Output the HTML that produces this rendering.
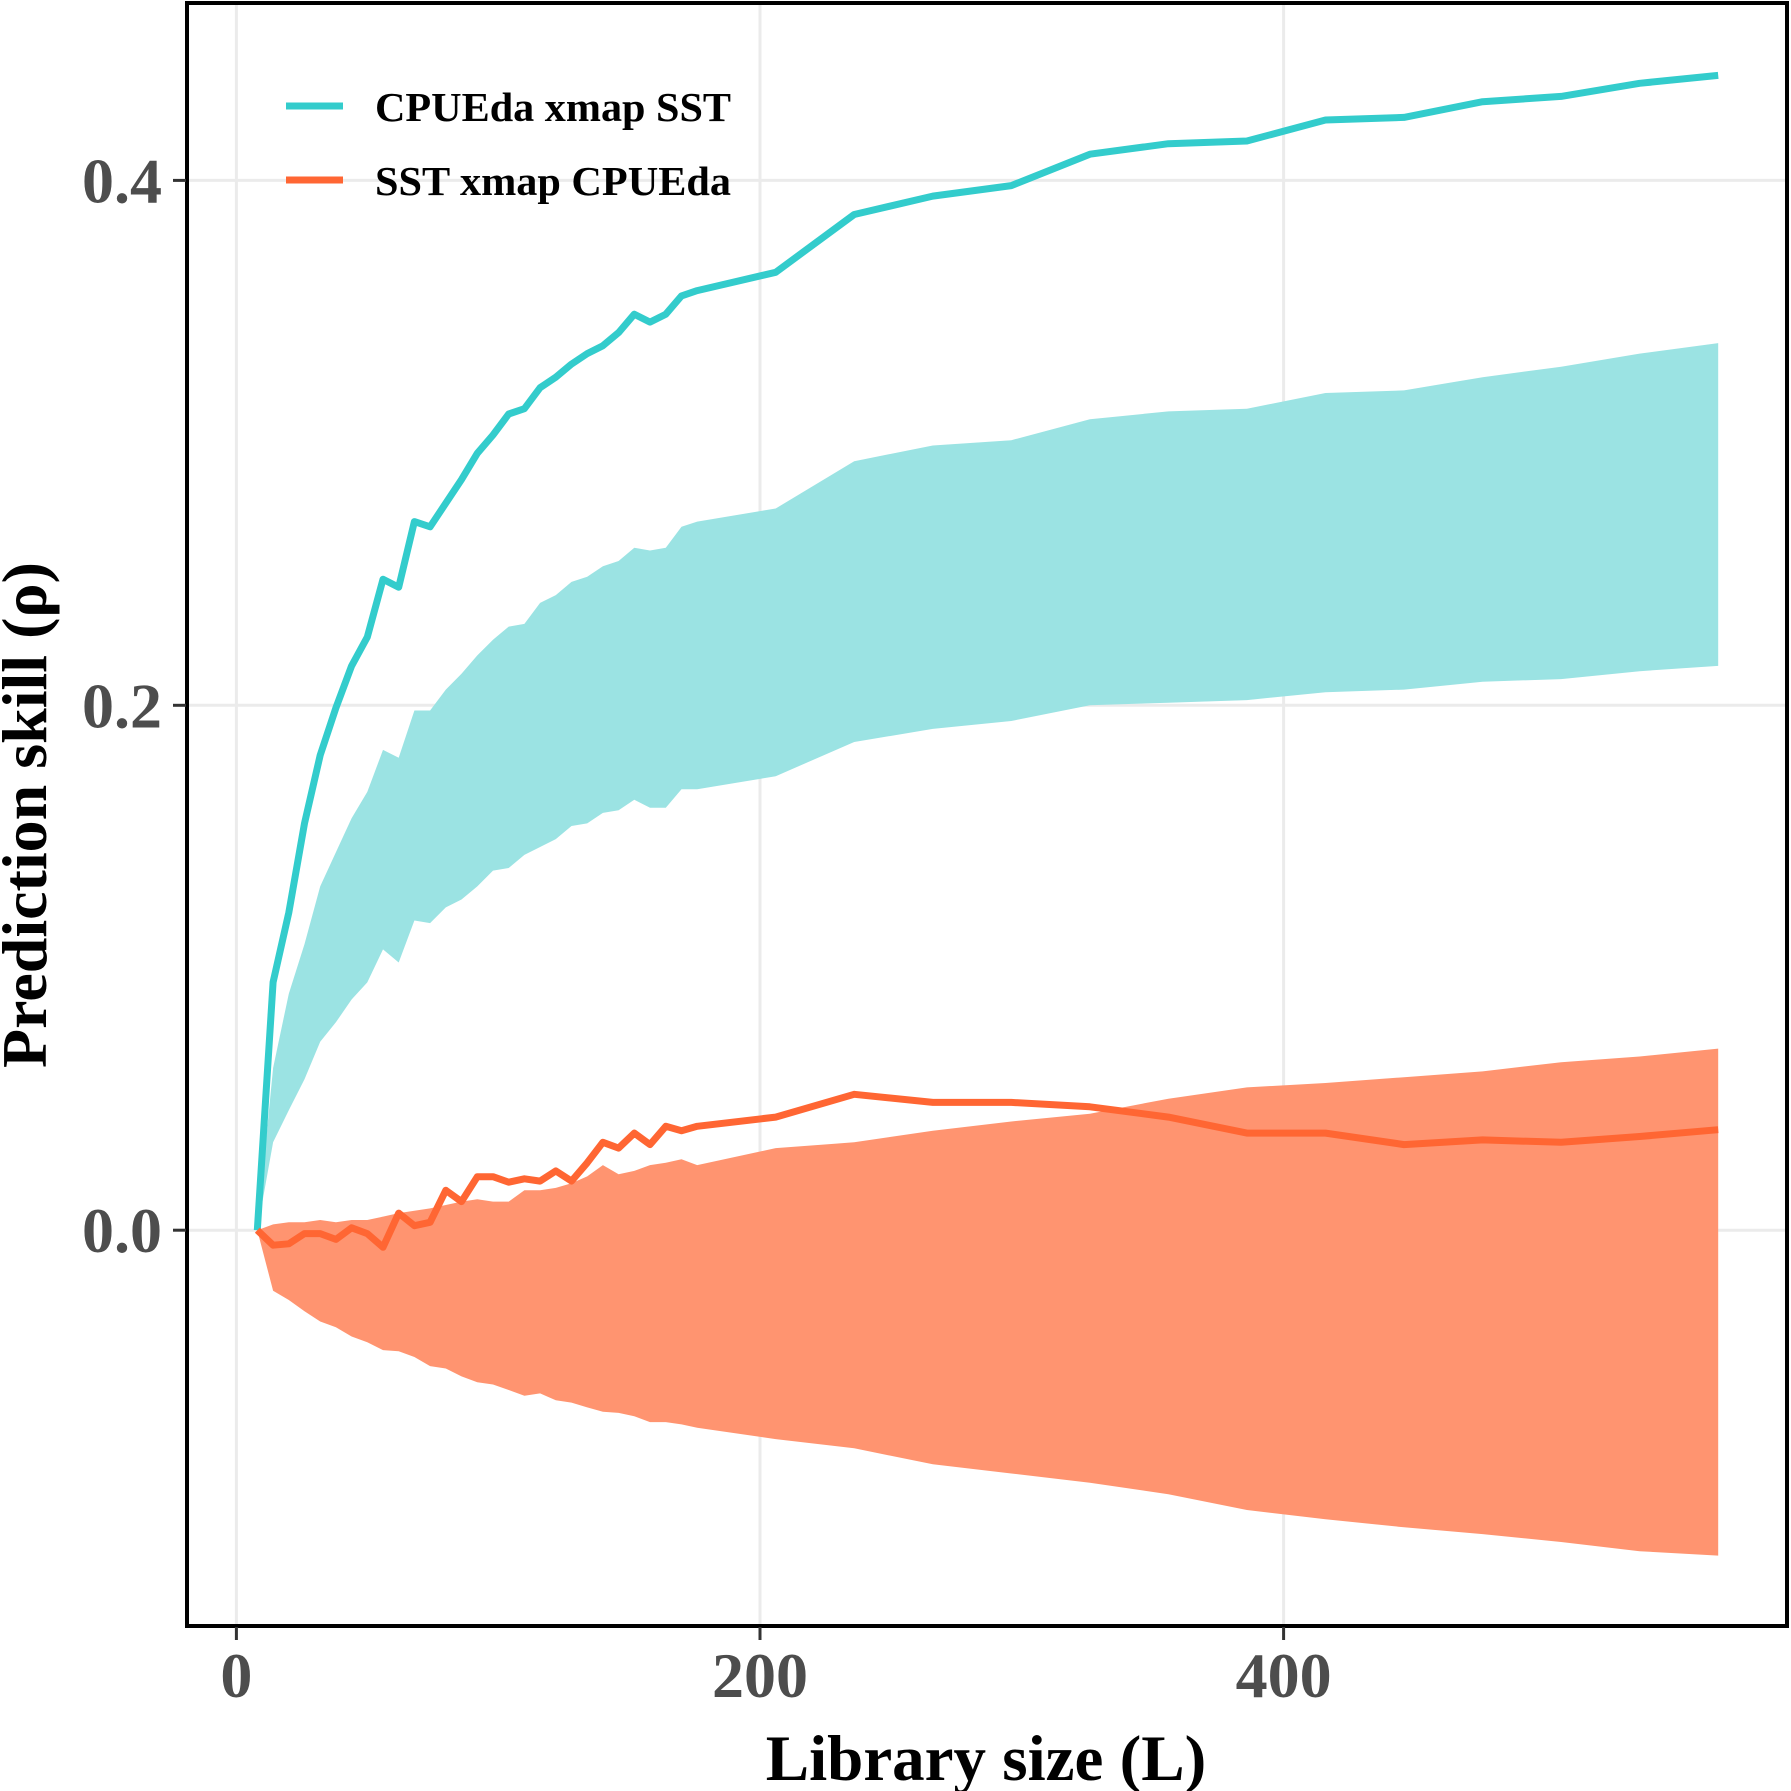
<!DOCTYPE html>
<html><head><meta charset="utf-8"><style>html,body{margin:0;padding:0;background:#fff}svg{display:block}</style></head>
<body>
<svg id="chart" width="1791" height="1791" viewBox="0 0 1791 1791" xmlns="http://www.w3.org/2000/svg" font-family="'Liberation Serif', serif">
<g id="grid"></g>
<g id="ribbons"></g>
<g id="lines"></g>
<rect x="187" y="3" width="1600" height="1623" fill="none" stroke="#000" stroke-width="4"/>
<g id="axes"></g>
<text transform="translate(46,815) rotate(-90)" text-anchor="middle" font-size="64" font-weight="bold">Prediction skill (ρ)</text>
<text x="986" y="1780" text-anchor="middle" font-size="65" font-weight="bold">Library size (L)</text>
<g>
<line x1="286" y1="106" x2="343" y2="106" stroke="#33cccc" stroke-width="7"/>
<text x="375" y="121" font-size="41" font-weight="bold" textLength="356" lengthAdjust="spacingAndGlyphs">CPUEda xmap SST</text>
<line x1="286" y1="180" x2="343" y2="180" stroke="#ff6633" stroke-width="7"/>
<text x="375" y="195" font-size="41" font-weight="bold" textLength="356" lengthAdjust="spacingAndGlyphs">SST xmap CPUEda</text>
</g>
</svg>
<script>
const libSizes=[8,14,20,26,32,38,44,50,56,62,68,74,80,86,92,98,104,110,116,122,128,134,140,146,152,158,164,170,176,206,236,266,296,326,356,386,416,446,476,506,536,566];
const cpueRho=[0,0.0945,0.121,0.155,0.181,0.199,0.215,0.226,0.248,0.245,0.270,0.268,0.277,0.286,0.296,0.303,0.311,0.313,0.321,0.325,0.330,0.334,0.337,0.342,0.349,0.346,0.349,0.356,0.358,0.365,0.387,0.394,0.398,0.410,0.414,0.415,0.423,0.424,0.430,0.432,0.437,0.440];
const cpueUpper=[0,0.0618,0.0901,0.109,0.131,0.144,0.157,0.167,0.183,0.180,0.198,0.198,0.206,0.212,0.219,0.225,0.230,0.231,0.239,0.242,0.247,0.249,0.253,0.255,0.260,0.259,0.260,0.268,0.270,0.275,0.293,0.299,0.301,0.309,0.312,0.313,0.319,0.320,0.325,0.329,0.334,0.338];
const cpueLower=[0,0.0335,0.0457,0.0575,0.0718,0.0792,0.0879,0.0944,0.107,0.102,0.118,0.117,0.123,0.126,0.131,0.137,0.138,0.143,0.146,0.149,0.154,0.155,0.159,0.160,0.164,0.161,0.161,0.168,0.168,0.173,0.186,0.191,0.194,0.200,0.201,0.202,0.205,0.206,0.209,0.210,0.213,0.215];
const sstRho=[0,-0.0057,-0.0052,-0.0013,-0.0013,-0.0035,0.0009,-0.0013,-0.0065,0.0065,0.0017,0.0030,0.0152,0.0109,0.0204,0.0204,0.0183,0.0196,0.0187,0.0226,0.0187,0.0257,0.0335,0.0313,0.0370,0.0326,0.0396,0.0379,0.0396,0.0431,0.0518,0.0487,0.0487,0.0470,0.0431,0.0370,0.0370,0.0326,0.0344,0.0335,0.0357,0.0383];
const sstUpper=[0,0.0022,0.0030,0.0030,0.0039,0.0030,0.0039,0.0039,0.0052,0.0065,0.0074,0.0083,0.0096,0.0109,0.0118,0.0109,0.0109,0.0152,0.0152,0.0161,0.0179,0.0205,0.0248,0.0213,0.0226,0.0248,0.0257,0.0270,0.0248,0.0313,0.0335,0.0379,0.0414,0.0444,0.0501,0.0544,0.0561,0.0583,0.0605,0.0640,0.0662,0.0692];
const sstLower=[0,-0.0231,-0.0266,-0.0309,-0.0348,-0.0370,-0.0405,-0.0427,-0.0457,-0.0461,-0.0483,-0.0518,-0.0527,-0.0557,-0.0579,-0.0588,-0.0609,-0.0631,-0.0622,-0.0648,-0.0657,-0.0675,-0.0692,-0.0696,-0.0709,-0.0731,-0.0731,-0.0740,-0.0753,-0.0796,-0.0831,-0.0892,-0.0927,-0.0962,-0.1006,-0.1066,-0.1101,-0.1132,-0.1158,-0.1188,-0.1223,-0.1240];
const xTicks=[0,200,400];
const xTickLabels=["0","200","400"];
const yTicks=[0,0.2,0.4];
const yTickLabels=["0.0","0.2","0.4"];

const NS="http://www.w3.org/2000/svg";
function xs(v){return 236.4+v*2.618;}
function ys(v){return 1230.2-v*2624.5;}
function mk(tag,attrs,parent){const e=document.createElementNS(NS,tag);for(const k in attrs)e.setAttribute(k,attrs[k]);parent.appendChild(e);return e;}
const grid=document.getElementById('grid'),rib=document.getElementById('ribbons'),lines=document.getElementById('lines'),axes=document.getElementById('axes');
mk('rect',{x:187,y:3,width:1600,height:1623,fill:'#fff'},grid);
xTicks.forEach((t,i)=>{
  const g=mk('line',{x1:xs(t),x2:xs(t),y1:3,y2:1626,stroke:'#ebebeb','stroke-width':3},grid);
  
  
  const tk=mk('line',{x1:xs(t),x2:xs(t),y1:1627,y2:1640,stroke:'#333','stroke-width':3},axes);
  
  
  const tl=mk('text',{x:xs(t),y:1697,'text-anchor':'middle','font-size':64,'font-weight':'bold',fill:'#4d4d4d'},axes);
  tl.textContent=xTickLabels[i];
  
  
});
yTicks.forEach((t,i)=>{
  const g=mk('line',{x1:187,x2:1786,y1:ys(t),y2:ys(t),stroke:'#ebebeb','stroke-width':3},grid);
  
  
  const tk=mk('line',{x1:173,x2:186,y1:ys(t),y2:ys(t),stroke:'#333','stroke-width':3},axes);
  
  
  const tl=mk('text',{x:162,y:ys(t)+22,'text-anchor':'end','font-size':64,'font-weight':'bold',fill:'#4d4d4d'},axes);
  tl.textContent=yTickLabels[i];
  
  
});
function ribbon(up,lo,fill,name){
  let d='';
  libSizes.forEach((L,i)=>{d+=(i?'L':'M')+xs(L).toFixed(1)+','+ys(up[i]).toFixed(1);});
  for(let i=libSizes.length-1;i>=0;i--)d+='L'+xs(libSizes[i]).toFixed(1)+','+ys(lo[i]).toFixed(1);
  const p=mk('path',{d:d+'Z',fill:fill},rib);
  
  
}
function line(vals,col,name){
  const pts=libSizes.map((L,i)=>xs(L).toFixed(1)+','+ys(vals[i]).toFixed(1)).join(' ');
  const p=mk('polyline',{points:pts,fill:'none',stroke:col,'stroke-width':7,'stroke-linejoin':'round'},lines);
  
  
}
ribbon(cpueUpper,cpueLower,'#9be3e3','ribbon-cpueda-xmap-sst');
ribbon(sstUpper,sstLower,'#ff9470','ribbon-sst-xmap-cpueda');
line(cpueRho,'#33cccc','line-cpueda-xmap-sst');
line(sstRho,'#ff6633','line-sst-xmap-cpueda');
</script>
</body></html>
